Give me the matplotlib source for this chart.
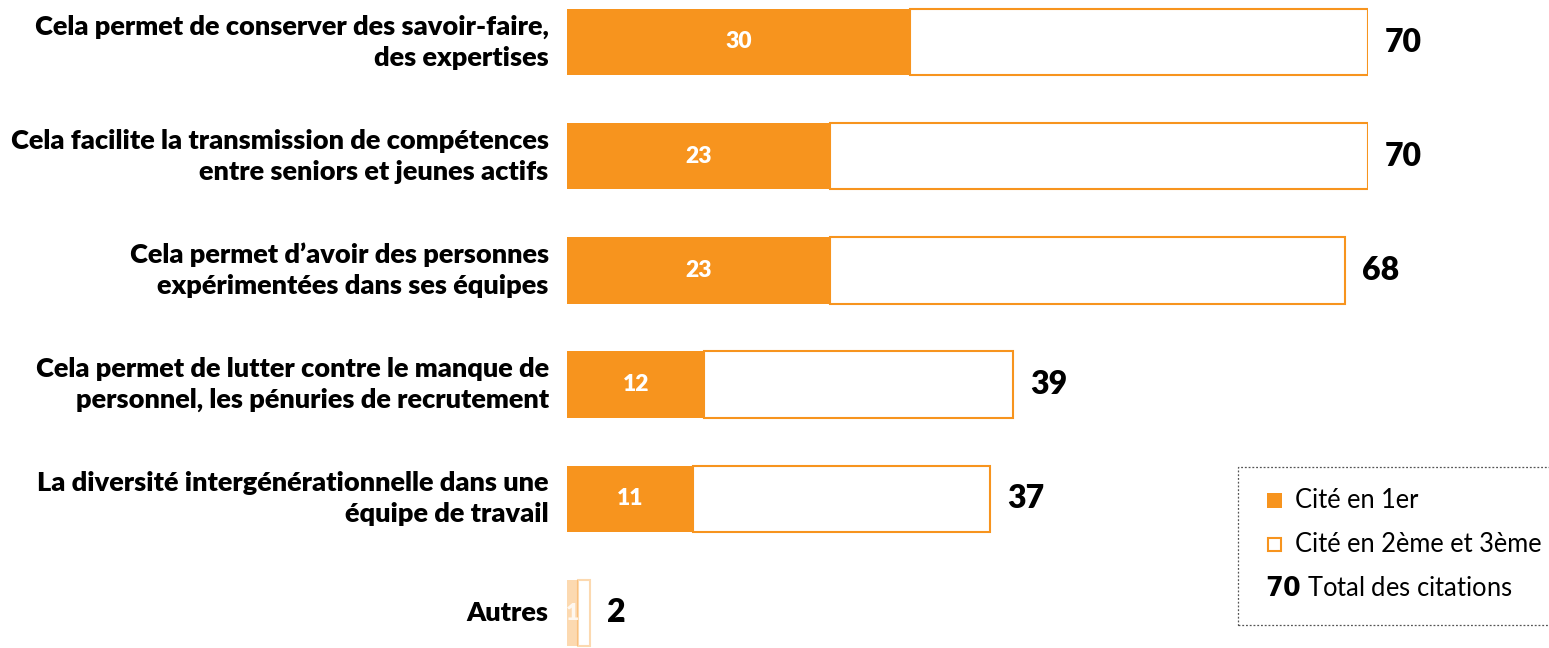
import matplotlib.pyplot as plt
from matplotlib.patches import Rectangle

# data
labels = [
    "Cela permet de conserver des savoir-faire,\ndes expertises",
    "Cela facilite la transmission de compétences\nentre seniors et jeunes actifs",
    "Cela permet d’avoir des personnes\nexpérimentées dans ses équipes",
    "Cela permet de lutter contre le manque de\npersonnel, les pénuries de recrutement",
    "La diversité intergénérationnelle dans une\néquipe de travail",
    "Autres",
]
cite_1er = [30, 23, 23, 12, 11, 1]
total = [70, 70, 68, 39, 37, 2]
faded = [False, False, False, False, False, True]

orange = "#F7941E"
plt.rcParams['font.family'] = ['Lato', 'DejaVu Sans']

fig = plt.figure(figsize=(15.49, 6.48), dpi=100)
ax = fig.add_axes([567 / 1549, 0, (1368 - 567) / 1549, 1])
ax.set_xlim(0, 70)
ax.set_ylim(5 + 35 / 114.2, -42 / 114.2)
ax.axis("off")

y = range(len(labels))
h = 0.58
for i in y:
    a = 0.35 if faded[i] else 1.0
    rest = total[i] - cite_1er[i]
    ax.barh(i, cite_1er[i], height=h, color=orange, alpha=a, edgecolor="none")
    ax.barh(i, rest, left=cite_1er[i], height=h, color="white", alpha=a,
            edgecolor=orange, linewidth=1.5)
    ax.text(cite_1er[i] / 2, i, str(cite_1er[i]), color="white", fontsize=16.5,
            fontweight="heavy", ha="center", va="center", alpha=0.8 if faded[i] else 1)
    ax.text(total[i] + 1.5, i, str(total[i]), fontsize=23, fontweight="heavy",
            ha="left", va="center", clip_on=False)
    ax.text(-1.6, i, labels[i], fontsize=19.5, fontweight="heavy", ha="right",
            va="center", linespacing=1.36, clip_on=False)

# legend box
fig.patches.append(Rectangle((1238 / 1549, 1 - 625 / 648), 0.3, 158 / 648,
                             transform=fig.transFigure, fill=False,
                             linestyle=(0, (1.5, 1.5)), linewidth=0.9,
                             edgecolor="#555555"))
fig.patches.append(Rectangle((1267 / 1549, 1 - 508 / 648), 15 / 1549, 15 / 648,
                             transform=fig.transFigure, facecolor=orange,
                             edgecolor="none"))
fig.patches.append(Rectangle((1268 / 1549, 1 - 551 / 648), 13 / 1549, 13 / 648,
                             transform=fig.transFigure, facecolor="white",
                             edgecolor=orange, linewidth=1.5))
fig.text(1295 / 1549, 1 - 501 / 648, "Cité en 1er", fontsize=18.4, va="center")
fig.text(1295 / 1549, 1 - 545 / 648, "Cité en 2ème et 3ème", fontsize=18.4,
         va="center")
fig.text(1265 / 1549, 1 - 588 / 648, r"$\mathbf{70}$ Total des citations",
         fontsize=18.4, va="center")

fig.savefig("out.png", dpi=100)
